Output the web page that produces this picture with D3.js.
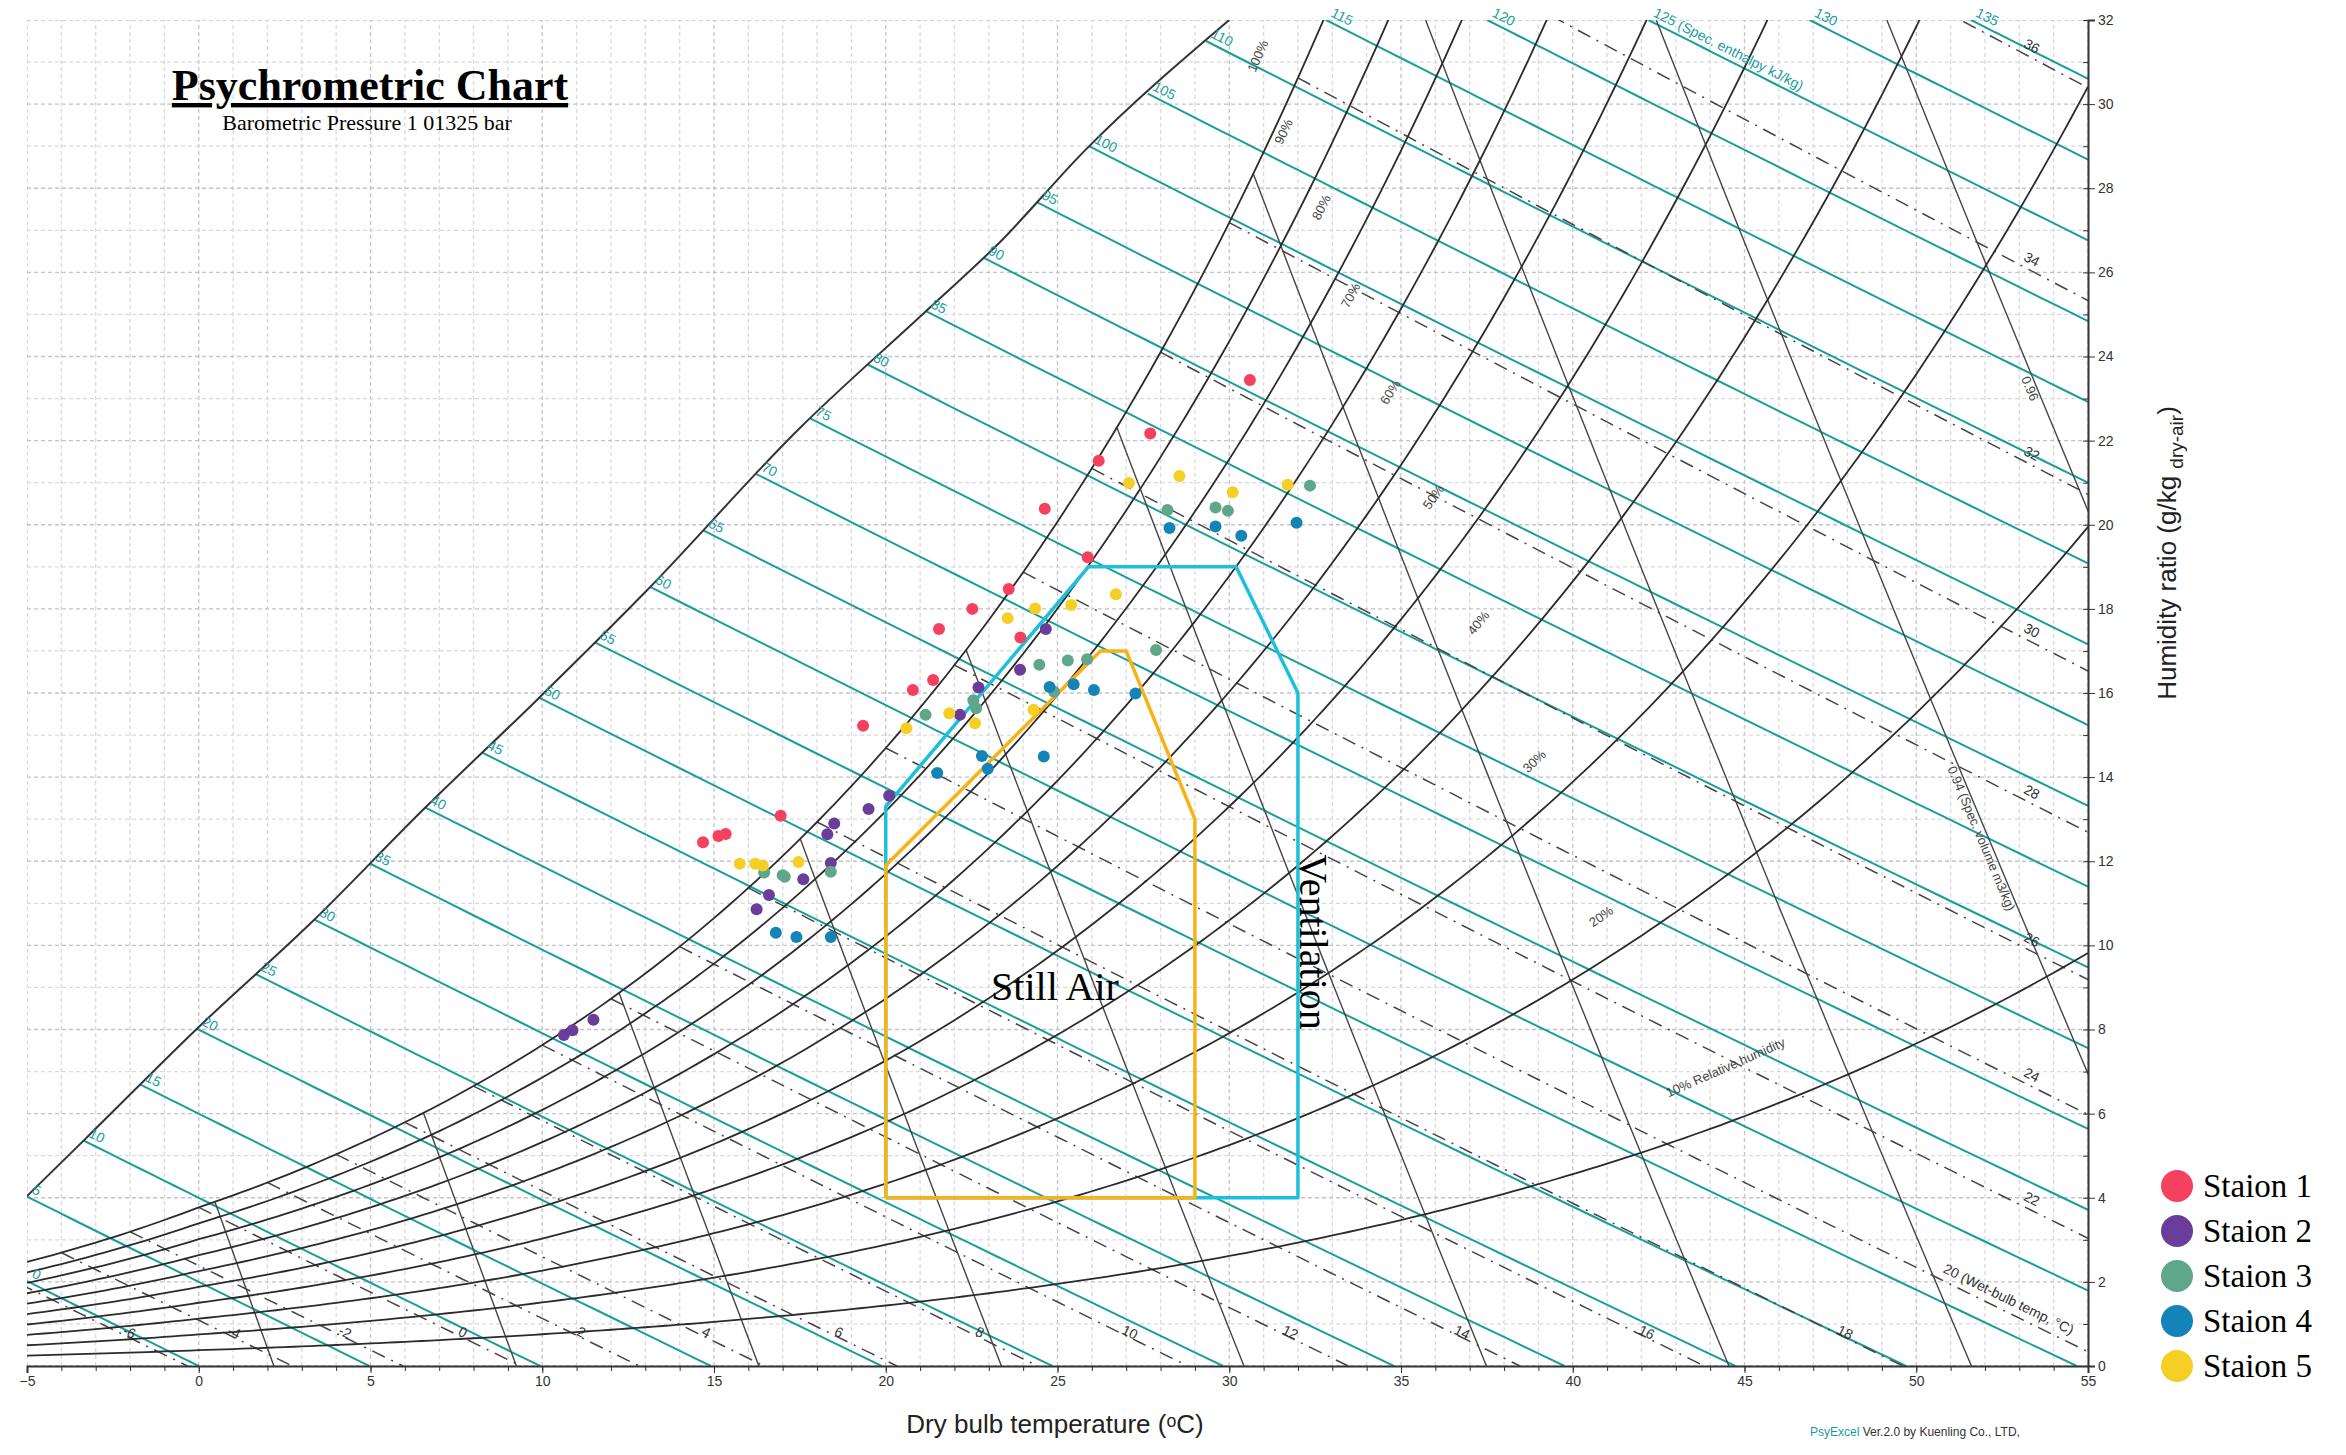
<!DOCTYPE html>
<html><head><meta charset="utf-8">
<script src="https://cdn.jsdelivr.net/npm/d3@7"></script>
<style>body{margin:0;background:#fff}</style></head>
<body><svg id="c" width="2346" height="1455"></svg>
<script>
// ---------- data ----------
const stationNames = ["Staion 1","Staion 2","Staion 3","Staion 4","Staion 5"];
const stationColors = ["#f5405f","#6a3d9a","#5fa68a","#1484b8","#f5cf25"];
const station1 = [[30.6,23.44],[27.7,22.17],[26.2,21.52],[24.63,20.38],[25.88,19.23],[23.58,18.47],[22.52,18.0],[21.55,17.52],[23.92,17.32],[21.38,16.31],[20.79,16.07],[19.34,15.22],[16.94,13.08],[15.34,12.65],[15.13,12.6],[14.68,12.45]];
const station2 = [[10.63,7.87],[10.88,7.98],[11.49,8.23],[24.66,17.52],[23.91,16.55],[22.7,16.13],[22.16,15.48],[20.1,13.56],[19.5,13.24],[18.5,12.9],[18.3,12.64],[18.4,11.96],[17.6,11.57],[16.6,11.2],[16.24,10.86]];
const station3 = [[28.2,20.35],[29.6,20.41],[29.96,20.33],[32.35,20.93],[27.87,17.02],[24.47,16.67],[25.3,16.77],[25.86,16.8],[24.9,16.03],[22.55,15.83],[22.63,15.64],[21.16,15.48],[16.46,11.73],[17.0,11.67],[17.06,11.63],[18.4,11.75]];
const station4 = [[28.26,19.92],[29.6,19.96],[30.35,19.74],[31.96,20.05],[24.77,16.14],[25.47,16.21],[26.06,16.07],[27.27,15.99],[24.6,14.49],[22.97,14.2],[22.8,14.5],[21.5,14.1],[16.8,10.3],[17.4,10.2],[18.4,10.2]];
const station5 = [[27.08,20.99],[28.55,21.16],[30.1,20.77],[31.7,20.95],[26.7,18.35],[24.35,18.01],[25.4,18.09],[23.55,17.78],[24.3,15.6],[21.85,15.52],[20.6,15.16],[22.6,15.28],[15.75,11.94],[16.2,11.94],[16.42,11.9],[17.46,11.98]];
const stations = [station1,station2,station3,station4,station5];
const ventilationZone = [[20,4],[32,4],[32,16.0],[30.2,19.0],[25.9,19.0],[20,13.3],[20,4]];
const stillAirZone = [[20,4],[29,4],[29,13.0],[27,17.0],[26.25,17.0],[20,11.9],[20,4]];
const boundaryLine = [[-5,4.04],[-3.3,5.4],[0,8.06],[3.3,10.56],[6.5,13.2],[9.8,15.8],[13,18.4],[17.5,22.3],[21.2,25.1],[23.3,26.7],[25.8,28.9],[30,32]];
const rhLevels = [100,90,80,70,60,50,40,30,20,10];
const rhLabelPos = [[30.95,31.1],[31.7,29.3],[32.8,27.5],[33.65,25.4],[34.8,23.1],[36.05,20.6],[37.35,17.6],[38.97,14.3],[40.9,10.6],[44.5,7.0]];
const enthalpyLevels = d3.range(0,136,5);
const wetBulbLevels = d3.range(-6,37,2);
const volumeLevels = [0.78,0.80,0.82,0.84,0.86,0.88,0.90,0.92,0.94,0.96];
const xTicks = d3.range(-5,56,5);
const yTicks = d3.range(0,33,2);

// ---------- psychrometrics ----------
const P = 101.325;
function ps(T){return T>=0?0.61078*Math.exp(17.27*T/(T+237.3)):0.61078*Math.exp(21.875*T/(T+265.5));}
function wRH(T,rh){const p=rh/100*ps(T);return 622*p/(P-p);}
function wH(T,h){return (h-1.006*T)/(2501+1.86*T)*1000;}
function wWB(T,tw){const ws=wRH(tw,100)/1000;return ((2501-2.326*tw)*ws-1.006*(T-tw))/(2501+1.86*T-4.186*tw)*1000;}
function tV(W,v){return v*P/(0.287042*(1+1.607858*W/1000))-273.15;}
function bW(T){for(let i=1;i<boundaryLine.length;i++){const a=boundaryLine[i-1],b=boundaryLine[i];if(T<=b[0]){return a[1]+(b[1]-a[1])*(T-a[0])/(b[0]-a[0]);}}return 32;}
function bisect(f,a,b){let fa=f(a);for(let i=0;i<60;i++){const m=(a+b)/2,fm=f(m);if((fm>0)===(fa>0)){a=m;fa=fm;}else b=m;}return (a+b)/2;}

// ---------- layout ----------
const svg = d3.select("#c");
const x = d3.scaleLinear().domain([-5,55]).range([27,2088]);
const y = d3.scaleLinear().domain([0,32]).range([1366,20]);
const line = d3.line().x(d=>x(d[0])).y(d=>y(d[1]));
svg.append("clipPath").attr("id","clip").append("rect").attr("x",x(-5)).attr("y",y(32)).attr("width",x(55)-x(-5)).attr("height",y(0)-y(32));
const g = svg.append("g").attr("clip-path","url(#clip)");

// grid
g.append("g").selectAll("line").data(d3.range(-5,56,1)).join("line")
 .attr("x1",d=>x(d)).attr("x2",d=>x(d)).attr("y1",y(0)).attr("y2",y(32))
 .attr("stroke",d=>d%5===0?"#c4c4c4":"#dadada").attr("stroke-width",1.3).attr("stroke-dasharray","4,3");
g.append("g").selectAll("line").data(d3.range(0,33,1)).join("line")
 .attr("y1",d=>y(d)).attr("y2",d=>y(d)).attr("x1",x(-5)).attr("x2",x(55))
 .attr("stroke",d=>d%2===0?"#c4c4c4":"#dadada").attr("stroke-width",1.3).attr("stroke-dasharray","4,3");

// enthalpy lines
const hStart = h=>{ if(h<=5) return [-5,wH(-5,h)]; const f=T=>1.006*T+bW(T)*(2501+1.86*T)/1000-h; if(f(30)<0){const T=bisect(T=>wH(T,h)-32,-5,55);return [T,32];} const T=bisect(f,-5,30); return [T,bW(T)];};
enthalpyLevels.forEach(h=>{
  const s=hStart(h); const pts=[]; const tEnd=Math.min(55,h/1.006);
  for(let i=0;i<=40;i++){const T=s[0]+(tEnd-s[0])*i/40;pts.push([T,Math.max(0,wH(T,h))]);}
  g.append("path").attr("d",line(pts)).attr("fill","none").attr("stroke","#1a9d9d").attr("stroke-width",2);
  const ang=Math.atan2(y(wH(s[0]+1,h))-y(wH(s[0],h)),x(s[0]+1)-x(s[0]))*180/Math.PI;
  let lbl = String(h);
  if(h===125) lbl="125  (Spec. enthalpy kJ/kg)";
  const ox=x(s[0])+4, oy=y(s[1])-4;
  svg.append("text").attr("transform",`translate(${ox},${oy}) rotate(${ang})`).attr("font-family","Liberation Sans").attr("font-size",14).attr("fill","#1a9d9d").text(lbl);
});

// boundary line
g.append("path").attr("d",line.curve(d3.curveMonotoneX)(boundaryLine)).attr("fill","none").attr("stroke","#333").attr("stroke-width",2);
line.curve(d3.curveLinear);

// specific volume lines
volumeLevels.forEach(v=>{
  const wTop=bisect(W=>wRH(tV(W,v),100)-W,0,40); const wMax=Math.min(32,wTop);
  const pts=d3.range(0,41).map(i=>{const W=wMax*i/40;return [tV(W,v),W];});
  g.append("path").attr("d",line(pts)).attr("fill","none").attr("stroke","#444").attr("stroke-width",1.4);
});
[[0.94,"0.94 (Spec. volume m3/kg)",12.5],[0.96,"0.96",23.2]].forEach(([v,t,W])=>{
  const T=tV(W*1,v);const ang=Math.atan2(y(W-1)-y(W),x(tV(W-1,v))-x(tV(W,v)))*180/Math.PI;
  svg.append("text").attr("transform",`translate(${x(T)-12},${y(W)}) rotate(${ang})`).attr("font-family","Liberation Sans").attr("font-size",13).attr("fill","#444").attr("text-anchor","middle").text(t);
});

// wet-bulb lines
wetBulbLevels.forEach(tw=>{
  const tEnd=Math.min(55,bisect(T=>wWB(T,tw),tw,80));
  const pts=d3.range(0,41).map(i=>{const T=tw+(tEnd-tw)*i/40;return [T,Math.max(0,wWB(T,tw))];});
  g.append("path").attr("d",line(pts)).attr("fill","none").attr("stroke","#444").attr("stroke-width",1.5).attr("stroke-dasharray","14,7,2,7");
  let T,W,anchor="middle",t=String(tw);
  if(tw<=18){T=bisect(T=>wWB(T,tw)-0.7,tw,80);W=0.7;} else {T=53.3;W=wWB(T,tw)+0.15;}
  if(tw===20){t="20 (Wet-bulb temp, °C)";T=54.5;W=wWB(T,tw)+0.2;anchor="end";}
  const ang=Math.atan2(y(wWB(T+1,tw))-y(wWB(T,tw)),x(T+1)-x(T))*180/Math.PI;
  if(W<32&&T<=55) svg.append("text").attr("transform",`translate(${x(T)},${y(W)}) rotate(${ang})`).attr("font-family","Liberation Sans").attr("font-size",14).attr("fill","#333").attr("text-anchor",anchor).text(t);
});

// RH curves
rhLevels.forEach((rh,i)=>{
  const pts=[];for(let T=-5;T<=55.01;T+=0.25){const W=wRH(T,rh);pts.push([T,W]);if(W>32.5)break;}
  g.append("path").attr("d",line(pts)).attr("fill","none").attr("stroke","#2b2b2b").attr("stroke-width",1.8);
  const [T,W]=rhLabelPos[i];const Tc=bisect(t=>wRH(t,rh)-W,-5,80);
  const ang=Math.atan2(y(wRH(Tc+0.5,rh))-y(wRH(Tc,rh)),x(Tc+0.5)-x(Tc))*180/Math.PI;
  const t=rh===10?"10% Relative humidity":rh+"%";
  svg.append("text").attr("transform",`translate(${x(T)},${y(W)}) rotate(${ang})`).attr("font-family","Liberation Sans").attr("font-size",13).attr("fill","#444").attr("text-anchor","middle").text(t);
});

// zones
g.append("path").attr("d",line(ventilationZone)).attr("fill","none").attr("stroke","#1cc0d8").attr("stroke-width",3.5).attr("stroke-linejoin","round");
g.append("path").attr("d",line(stillAirZone)).attr("fill","none").attr("stroke","#f7b316").attr("stroke-width",3.5).attr("stroke-linejoin","round");

// points
stations.forEach((s,i)=>{
  svg.append("g").selectAll("circle").data(s).join("circle").attr("cx",d=>x(d[0])).attr("cy",d=>y(d[1])).attr("r",6).attr("fill",stationColors[i]);
});

// axes
svg.append("g").attr("transform",`translate(0,${y(0)})`).call(d3.axisBottom(x).tickValues(xTicks).tickSize(7).tickFormat(d3.format("d")));
svg.append("g").attr("transform",`translate(0,${y(0)})`).call(d3.axisBottom(x).tickValues(d3.range(-5,56,1)).tickSize(5).tickFormat("")).select(".domain").remove();
svg.append("g").attr("transform",`translate(${x(55)},0)`).call(d3.axisRight(y).tickValues(yTicks).tickSize(7).tickFormat(d3.format("d")));
svg.append("g").attr("transform",`translate(${x(55)},0)`).call(d3.axisLeft(y).tickValues(d3.range(0,33,1)).tickSize(5).tickFormat("")).select(".domain").remove();
svg.selectAll(".tick text").attr("font-size",14).attr("fill","#333").attr("font-family","Liberation Sans");
svg.selectAll(".domain").attr("stroke","#333").attr("stroke-width",2);
svg.selectAll(".tick line").attr("stroke","#333");

// texts
svg.append("text").attr("x",370).attr("y",100).attr("text-anchor","middle").attr("font-family","Liberation Serif").attr("font-weight","bold").attr("font-size",44).attr("text-decoration","underline").text("Psychrometric Chart");
svg.append("text").attr("x",367).attr("y",130).attr("text-anchor","middle").attr("font-family","Liberation Serif").attr("font-size",22).text("Barometric Pressure 1 01325 bar");
svg.append("text").attr("x",1055).attr("y",1000).attr("text-anchor","middle").attr("font-family","Liberation Serif").attr("font-size",40).text("Still Air");
svg.append("text").attr("transform","translate(1300,942) rotate(90)").attr("text-anchor","middle").attr("font-family","Liberation Serif").attr("font-size",40).text("Ventilation");
svg.append("text").attr("x",1055).attr("y",1433).attr("text-anchor","middle").attr("font-family","Liberation Sans").attr("font-size",26).attr("fill","#222").text("Dry bulb temperature (ᵒC)");
const yl=svg.append("text").attr("transform","translate(2176,553) rotate(-90)").attr("text-anchor","middle").attr("font-family","Liberation Sans").attr("font-size",26).attr("fill","#222");
yl.append("tspan").text("Humidity ratio (g/kg ");yl.append("tspan").attr("font-size",19).attr("dy",7).text("dry-air");yl.append("tspan").attr("dy",-7).text(")");
const ft=svg.append("text").attr("x",1810).attr("y",1436).attr("font-family","Liberation Sans").attr("font-size",12).attr("fill","#333");
ft.append("tspan").attr("fill","#1a9d9d").text("PsyExcel");ft.append("tspan").text(" Ver.2.0  by Kuenling Co., LTD,");

// legend
const lg=svg.append("g").selectAll("g").data(stationNames).join("g").attr("transform",(d,i)=>`translate(2177,${1186+i*45})`);
lg.append("circle").attr("r",16).attr("fill",(d,i)=>stationColors[i]);
lg.append("text").attr("x",26).attr("y",11).attr("font-family","Liberation Serif").attr("font-size",33).text(d=>d);
</script></body></html>
